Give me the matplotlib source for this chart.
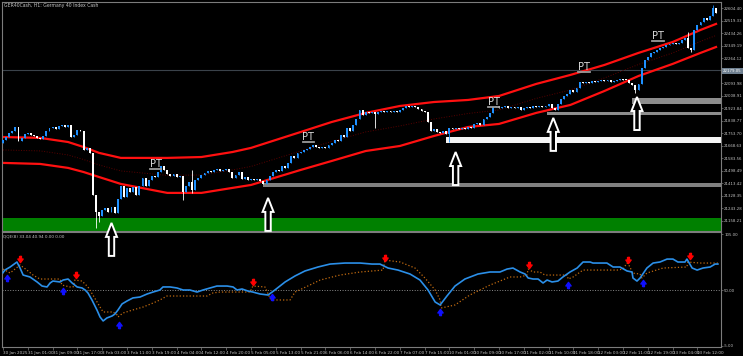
import matplotlib
matplotlib.use("Agg")
import matplotlib.pyplot as plt
from matplotlib.path import Path
from matplotlib.patches import Polygon
import numpy as np

# hourly closes, one per bar (GER40Cash H1)
closes = [21709, 21729, 21757, 21770, 21797, 21702, 21723, 21750, 21757, 21743,
          21736, 21723, 21716, 21736, 21770, 21791, 21797, 21784, 21804, 21811,
          21797, 21811, 21729, 21743, 21777, 21770, 21641, 21655, 21621, 21335,
          21219, 21192, 21233, 21247, 21219, 21253, 21213, 21308, 21396, 21321,
          21383, 21355, 21389, 21335, 21396, 21451, 21396, 21437, 21464, 21457,
          21491, 21532, 21505, 21478, 21464, 21478, 21457, 21464, 21355, 21396,
          21423, 21369, 21437, 21451, 21471, 21485, 21498, 21491, 21505, 21512,
          21498, 21505, 21512, 21491, 21451, 21471, 21491, 21444, 21457, 21437,
          21444, 21437, 21444, 21430, 21410, 21437, 21464, 21491, 21505, 21498,
          21532, 21519, 21553, 21600, 21587, 21621, 21627, 21641, 21648, 21661,
          21675, 21661, 21655, 21661, 21655, 21675, 21689, 21709, 21702, 21743,
          21729, 21791, 21770, 21811, 21852, 21913, 21879, 21899, 21893, 21899,
          21886, 21899, 21906, 21899, 21906, 21899, 21906, 21899, 21913, 21927,
          21940, 21933, 21940, 21933, 21920, 21906, 21899, 21831, 21770, 21784,
          21763, 21757, 21770, 21750, 21791, 21784, 21791, 21784, 21791, 21784,
          21797, 21791, 21818, 21825, 21811, 21852, 21865, 21893, 21933, 21940,
          21927, 21933, 21940, 21927, 21933, 21927, 21933, 21913, 21927, 21933,
          21927, 21940, 21933, 21940, 21933, 21940, 21954, 21927, 21913, 21954,
          21988, 22008, 22022, 22049, 22035, 22063, 22103, 22097, 22103, 22097,
          22110, 22103, 22110, 22117, 22110, 22117, 22103, 22110, 22117, 22124,
          22117, 22117, 22097, 22083, 22049, 22090, 22199, 22253, 22273, 22301,
          22307, 22321, 22335, 22341, 22355, 22362, 22369, 22362, 22369, 22389,
          22403, 22335, 22321, 22457, 22491, 22511, 22539, 22525, 22552, 22607,
          22573]
first_open = 21689
wick_low = {30: 21111, 31: 21151, 58: 21301, 61: 21349, 120: 21791,
            144: 21695, 204: 22029, 222: 22307}
wick_high = {61: 21505, 221: 22443, 229: 22627}

# envelope channel
env_bars = [0, 12, 21, 26, 31, 38, 53, 64, 74, 80, 96, 106, 117, 128, 139, 150,
            160, 172, 183, 194, 205, 216, 225, 230]
env_upper = [21729, 21723, 21695, 21661, 21621, 21587, 21587, 21593, 21627, 21655,
             21763, 21831, 21893, 21940, 21967, 21981, 22008, 22090, 22151, 22219,
             22301, 22375, 22457, 22498]
env_lower = [21553, 21546, 21519, 21491, 21457, 21410, 21349, 21349, 21383, 21403,
             21505, 21566, 21634, 21668, 21736, 21797, 21818, 21893, 21947, 22042,
             22144, 22226, 22301, 22341]

# support zones
zone_start = [-1, 84, 143, 175.5, 203]
zone_low = [21092, 21389, 21689, 21879, 21954]
zone_high = [21179, 21417, 21729, 21899, 21995]
zone_colors = ['#008000', '#808080', '#f4f4f4', '#8c8c8c', '#8c8c8c']
hline_price = 22185

arrow_bars = [35, 85.5, 146, 177.5, 204.5]
arrow_tips = [21145, 21315, 21627, 21859, 22001]

pt_bars = [49.2, 98.5, 158.3, 187.4, 211.3]
pt_prices = [21546, 21729, 21967, 22205, 22417]

price_ticks = [22604.40, 22519.33, 22434.26, 22349.19, 22264.12, 22093.98,
               22008.91, 21923.84, 21838.77, 21753.70, 21668.63, 21583.56,
               21498.49, 21413.42, 21328.35, 21243.28, 21158.21]
box_price = 22179.05

date_labels = ["30 Jan 2025", "31 Jan 01:00", "31 Jan 09:00", "31 Jan 17:00",
               "3 Feb 03:00", "3 Feb 11:00", "3 Feb 19:00", "4 Feb 04:00",
               "4 Feb 12:00", "4 Feb 20:00", "5 Feb 05:00", "5 Feb 13:00",
               "5 Feb 21:00", "6 Feb 06:00", "6 Feb 14:00", "6 Feb 22:00",
               "7 Feb 07:00", "7 Feb 15:00", "10 Feb 01:00", "10 Feb 09:00",
               "10 Feb 17:00", "11 Feb 02:00", "11 Feb 10:00", "11 Feb 18:00",
               "12 Feb 03:00", "12 Feb 11:00", "12 Feb 19:00", "13 Feb 04:00",
               "13 Feb 12:00"]

# QQE indicator
qqe_bars = [0, 0.6, 2.3, 4.5, 5.5, 6.5, 8.7, 11.0, 12.6, 14.2, 15.2, 16.1, 18.4,
            19.4, 21.0, 22.3, 23.9, 25.5, 26.5, 27.4, 28.7, 30.3, 31.3, 32.3,
            33.5, 35.2, 36.1, 37.1, 38.4, 40.0, 41.9, 44.2, 46.5, 48.4, 50.6,
            51.6, 53.9, 56.1, 58.1, 60.3, 62.6, 64.5, 66.8, 69.0, 72.3, 74.2,
            75.5, 77.1, 79.0, 80.6, 82.9, 85.5, 87.7, 91.0, 94.2, 97.4, 101.6,
            105.5, 110.3, 115.2, 119.0, 121.6, 124.2, 127.4, 131.3, 134.5, 137.1,
            139.4, 141.0, 143.2, 145.8, 149.0, 153.2, 157.1, 160.3, 162.6, 164.5,
            166.8, 168.4, 169.4, 171.0, 172.6, 174.2, 175.5, 177.1, 179.0, 180.6,
            182.9, 185.2, 187.1, 189.4, 190.3, 194.8, 196.8, 199.0, 201.3, 202.9,
            203.2, 204.5, 205.5, 207.7, 209.7, 211.9, 214.2, 216.1, 217.7, 220.0,
            220.6, 222.3, 223.9, 225.8, 228.1, 229.7, 230.6]
qqe_vals = [67.0, 69.6, 72.6, 77.5, 71.6, 64.7, 62.8, 57.9, 53.9, 53.0, 56.9, 58.8,
            57.9, 59.8, 60.8, 56.9, 53.0, 52.0, 50.0, 47.1, 40.2, 30.4, 23.5, 19.6,
            22.5, 24.5, 26.4, 30.4, 36.3, 39.2, 42.2, 43.1, 46.1, 48.0, 50.0, 53.0,
            53.0, 52.0, 50.0, 50.0, 48.0, 50.0, 52.0, 53.9, 53.9, 53.0, 50.0, 51.0,
            49.0, 48.0, 46.1, 45.1, 50.0, 57.9, 63.8, 68.7, 72.6, 75.5, 76.5, 76.5,
            75.5, 75.5, 71.6, 69.6, 65.7, 59.8, 50.0, 38.2, 35.3, 44.1, 53.9, 60.8,
            65.7, 67.7, 67.7, 70.6, 71.6, 67.7, 65.7, 61.8, 60.8, 60.8, 56.9, 59.8,
            57.9, 58.8, 62.8, 67.7, 71.6, 77.5, 77.5, 76.5, 76.5, 72.6, 72.6, 68.7,
            67.7, 61.8, 58.8, 61.8, 71.6, 76.5, 77.5, 80.4, 80.4, 77.5, 77.5, 80.4,
            71.6, 69.6, 71.6, 72.6, 75.5, 75.5]
trail_bars = [0, 2.3, 5.5, 7.7, 9.7, 11.9, 18.4, 19.0, 21.6, 22.6, 23.2, 25.5,
              27.4, 29.0, 31.3, 32.3, 35.5, 36.8, 37.1, 38.7, 41.9, 45.2, 48.4,
              50.6, 52.9, 65.8, 67.7, 70.0, 74.2, 79.7, 80.6, 84.5, 86.1, 86.8,
              92.6, 94.2, 99.0, 102.3, 108.7, 115.2, 122.6, 123.2, 128.1, 132.9,
              136.1, 139.4, 141.0, 141.3, 145.8, 150.6, 157.1, 160.3, 163.5, 166.8,
              169.0, 169.4, 171.0, 173.2, 174.8, 182.0, 182.3, 183.9, 187.1, 198.1,
              200.0, 201.3, 202.3, 202.9, 205.5, 206.1, 207.7, 212.9, 220.6, 220.9,
              224.8, 230.6]
trail_vals = [70.6, 66.7, 74.6, 69.6, 64.7, 60.8, 60.8, 54.9, 53.0, 53.0, 59.8,
              58.8, 53.0, 45.1, 33.3, 28.4, 28.4, 25.5, 23.5, 27.4, 30.4, 33.3,
              37.2, 40.2, 44.1, 44.1, 47.1, 48.0, 48.0, 48.0, 53.9, 53.0, 42.2,
              40.2, 40.2, 48.0, 54.9, 59.8, 64.7, 67.7, 69.6, 79.4, 77.5, 71.6,
              61.8, 50.0, 40.2, 32.3, 35.3, 45.1, 54.9, 58.8, 62.8, 62.8, 64.7,
              70.6, 67.7, 67.7, 64.7, 64.7, 60.8, 62.8, 69.6, 69.6, 70.6, 76.5,
              72.6, 66.7, 65.7, 61.8, 66.7, 71.6, 72.6, 77.5, 76.5, 76.5]
sell_bars = [5.5, 23.6, 80.6, 123.2, 169.7, 201.6, 221.6]
sell_vals = [80.4, 64.7, 57.9, 81.4, 74.6, 79.4, 83.4]
buy_bars = [1.3, 19.4, 37.4, 86.8, 141.0, 182.3, 206.5]
buy_vals = [61.8, 49.0, 15.6, 43.1, 28.4, 54.9, 56.9]

W, H = 743, 356
grey = '#7c7c7c'
txt = '#c4c4c4'

fig = plt.figure(figsize=(W / 100, H / 100), dpi=100, facecolor='black')
ax = fig.add_axes([2 / W, 1 - 231 / H, 719 / W, 229 / H], facecolor='black')
ax2 = fig.add_axes([2 / W, 1 - 347 / H, 719 / W, 115 / H], facecolor='black', sharex=ax)
ax.set_zorder(3)   # so the low arrow may overlap the indicator pane

x_lo, x_hi = -0.32, 231.6
ax.set_xlim(x_lo, x_hi)
ax.set_ylim(21090, 22647)
ax2.set_ylim(-6, 107)

dx = (x_hi - x_lo) / 719.0      # bars per pixel
dy = (22647 - 21090) / 229.0    # price per pixel

for a in (ax, ax2):
    for s in a.spines.values():
        s.set_color(grey)
        s.set_linewidth(0.8)

# zones and horizontal line
for s, lo, hi, col in zip(zone_start, zone_low, zone_high, zone_colors):
    ax.fill_between([s, x_hi + 2], lo, hi, color=col, linewidth=0, zorder=1)
ax.axhline(hline_price, color='#3a424a', lw=0.8, zorder=1.5)

# envelope
up = np.array(env_upper)
lo = np.array(env_lower)
ax.plot(env_bars, (up + lo) / 2, color='#5a0000', lw=0.7, ls=':', zorder=2)
ax.plot(env_bars, up, color='#ff1010', lw=1.6, zorder=2.5)
ax.plot(env_bars, lo, color='#ff1010', lw=1.6, zorder=2.5)

# candles
idx = np.arange(len(closes))
opens = np.array([first_open] + closes[:-1])
cl = np.array(closes)
cols = ['#1e90ff' if c > o else 'white' for o, c in zip(opens, cl)]
bottoms = np.minimum(opens, cl)
heights = np.maximum(np.abs(cl - opens), 4)
for i in idx:
    hi_ = max(opens[i], cl[i], wick_high.get(i, 0))
    lw_ = min(opens[i], cl[i], wick_low.get(i, 1e9))
    ax.vlines(i, lw_, hi_, color=cols[i], lw=0.6, zorder=3)
ax.bar(idx, heights, bottom=bottoms, width=0.62, color=cols, linewidth=0, zorder=3.2)

# hollow arrows
shape = [(0, 0), (5.5, 14), (2.7, 14), (2.7, 33), (-2.7, 33), (-2.7, 14), (-5.5, 14)]
for b, t in zip(arrow_bars, arrow_tips):
    pts = [(b + ox * dx, t - oy * dy) for ox, oy in shape]
    ax.add_patch(Polygon(pts, closed=True, facecolor='black', edgecolor='white',
                         lw=1.4, zorder=4, clip_on=False))

# PT labels
for b, p in zip(pt_bars, pt_prices):
    ax.text(b, p, 'PT', fontsize=7, color='#dcdcdc', ha='center', va='center', zorder=5)
    ax.plot([b - 1.8, b + 1.8], [p - 5 * dy] * 2, color='#9a9a9a', lw=1.3, zorder=5)

# price axis
ax.yaxis.tick_right()
ax.set_yticks(price_ticks)
ax.set_yticklabels([f'{v:.2f}' for v in price_ticks])
ax.tick_params(axis='y', colors=grey, labelcolor=txt, labelsize=2.8, length=1.5,
               width=0.5, pad=0.8)
ax.tick_params(axis='x', bottom=False, labelbottom=False)
ax.text(1.003, box_price, f'{box_price:.2f}', transform=ax.get_yaxis_transform(),
        fontsize=2.8, color='white', va='center', ha='left', clip_on=False,
        bbox=dict(boxstyle='square,pad=0.2', fc='#6f8090', ec='none'))

fig.text(4 / W, 1 - 5 / H, 'GER40Cash, H1: Germany 40 Index Cash', fontsize=3.3,
         color=txt, va='center', ha='left')

# indicator
ax2.axhline(50, color='#8a8a8a', lw=0.7, ls=':', zorder=1)
ax2.plot(trail_bars, trail_vals, color='#c06a10', lw=0.9, ls=':', zorder=2)
ax2.plot(qqe_bars, qqe_vals, color='#2b8fe8', lw=1.2, zorder=3)

down = Path([(-0.3, 1), (0.3, 1), (0.3, 0.15), (0.85, 0.15), (0, -1), (-0.85, 0.15),
             (-0.3, 0.15), (-0.3, 1)])
upm = Path([(-0.3, -1), (0.3, -1), (0.3, -0.15), (0.85, -0.15), (0, 1), (-0.85, -0.15),
            (-0.3, -0.15), (-0.3, -1)])
ax2.plot(sell_bars, sell_vals, ls='none', marker=down, ms=4.5, color='#ff0000', zorder=4)
ax2.plot(buy_bars, buy_vals, ls='none', marker=upm, ms=4.5, color='#1010ff', zorder=4)

ax2.yaxis.tick_right()
ax2.set_yticks([105, 50, -5])
ax2.set_yticklabels(['105.00', '50.00', '-5.00'])
ax2.tick_params(axis='y', colors=grey, labelcolor=txt, labelsize=2.8, length=1.5,
                width=0.5, pad=0.8)
ax2.set_xticks(np.arange(0, 8 * len(date_labels), 8))
ax2.set_xticklabels(date_labels, ha='left')
ax2.tick_params(axis='x', colors=grey, labelcolor=txt, labelsize=3, length=2,
                width=0.5, pad=1)
fig.text(3 / W, 1 - 237 / H, 'QQE(8) 33.04 40.94 0.00 0.00', fontsize=3,
         color=txt, va='center', ha='left')

fig.savefig('out.png', dpi=100, facecolor='black')
